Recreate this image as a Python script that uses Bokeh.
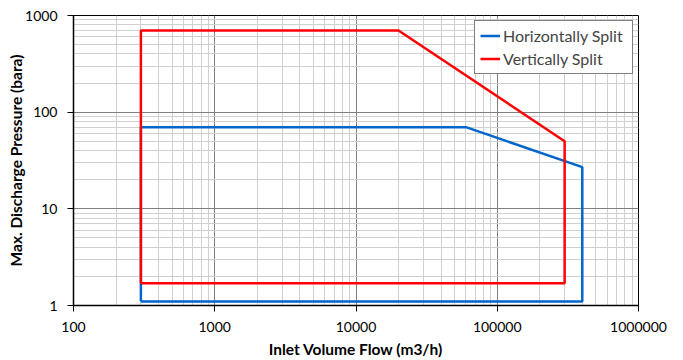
from bokeh.plotting import figure
from bokeh.models import FixedTicker, PrintfTickFormatter, Legend, LegendItem
from bokeh.embed import file_html
from bokeh.resources import INLINE

# Data
hs_x = [300, 300, 60000, 400000, 400000, 300]
hs_y = [1.1, 70, 70, 27, 1.1, 1.1]
vs_x = [300, 300, 20000, 300000, 300000, 300]
vs_y = [1.7, 700, 700, 50, 1.7, 1.7]
x_major = [100, 1000, 10000, 100000, 1000000]
y_major = [1, 10, 100, 1000]

x_minor = [m * d for d in x_major[:-1] for m in range(2, 10)]
y_minor = [m * d for d in y_major[:-1] for m in range(2, 10)]

FONT = "Lato"

p = figure(width=683, height=360, x_axis_type="log", y_axis_type="log",
           x_range=(100, 1000000), y_range=(1, 1000),
           output_backend="svg", toolbar_location=None,
           min_border_left=73, min_border_right=45, min_border_top=15, min_border_bottom=55)

for ax, maj, mn in ((p.xaxis[0], x_major, x_minor), (p.yaxis[0], y_major, y_minor)):
    ax.ticker = FixedTicker(ticks=maj, minor_ticks=mn)
    ax.formatter = PrintfTickFormatter(format="%d")
    ax.major_label_text_font = FONT
    ax.major_label_text_font_size = "14px"
    ax.major_label_text_color = "#000000"
    ax.axis_label_text_font = FONT
    ax.axis_label_text_font_size = "15.5px"
    ax.axis_label_text_font_style = "bold"
    ax.axis_label_text_color = "#000000"
    ax.axis_line_color = "#000000"
    ax.axis_line_width = 1.5
    ax.major_tick_line_color = "#000000"
    ax.major_tick_in = 0
    ax.major_tick_out = 6
    ax.minor_tick_line_color = None

p.xaxis.axis_label = "Inlet Volume Flow (m3/h)"
p.yaxis.axis_label = "Max. Discharge Pressure (bara)"
p.xaxis.axis_label_standoff = 5
p.yaxis.axis_label_standoff = -3
p.xaxis.major_label_standoff = 10
p.yaxis.major_label_standoff = 10

for g in (p.xgrid[0], p.ygrid[0]):
    g.grid_line_color = "#7f7f7f"
    g.grid_line_width = 1
    g.minor_grid_line_color = "#d0d0d0"
    g.minor_grid_line_width = 1

p.outline_line_color = "#000000"
p.outline_line_width = 1

r1 = p.line(hs_x, hs_y, line_color="#0066CC", line_width=2.5)
r2 = p.line(vs_x, vs_y, line_color="#FF0000", line_width=2.5)

legend = Legend(items=[LegendItem(label="Horizontally Split", renderers=[r1]),
                       LegendItem(label="Vertically Split", renderers=[r2])],
                location="top_right")
legend.label_text_font = FONT
legend.label_text_font_size = "16px"
legend.border_line_color = "#000000"
legend.border_line_width = 1
legend.margin = 5
legend.padding = 5
legend.spacing = 4
legend.glyph_width = 20
legend.glyph_height = 17
legend.label_height = 17
legend.label_width = 124
legend.label_standoff = 3
p.add_layout(legend)

open("out.html", "w").write(file_html(p, INLINE))
